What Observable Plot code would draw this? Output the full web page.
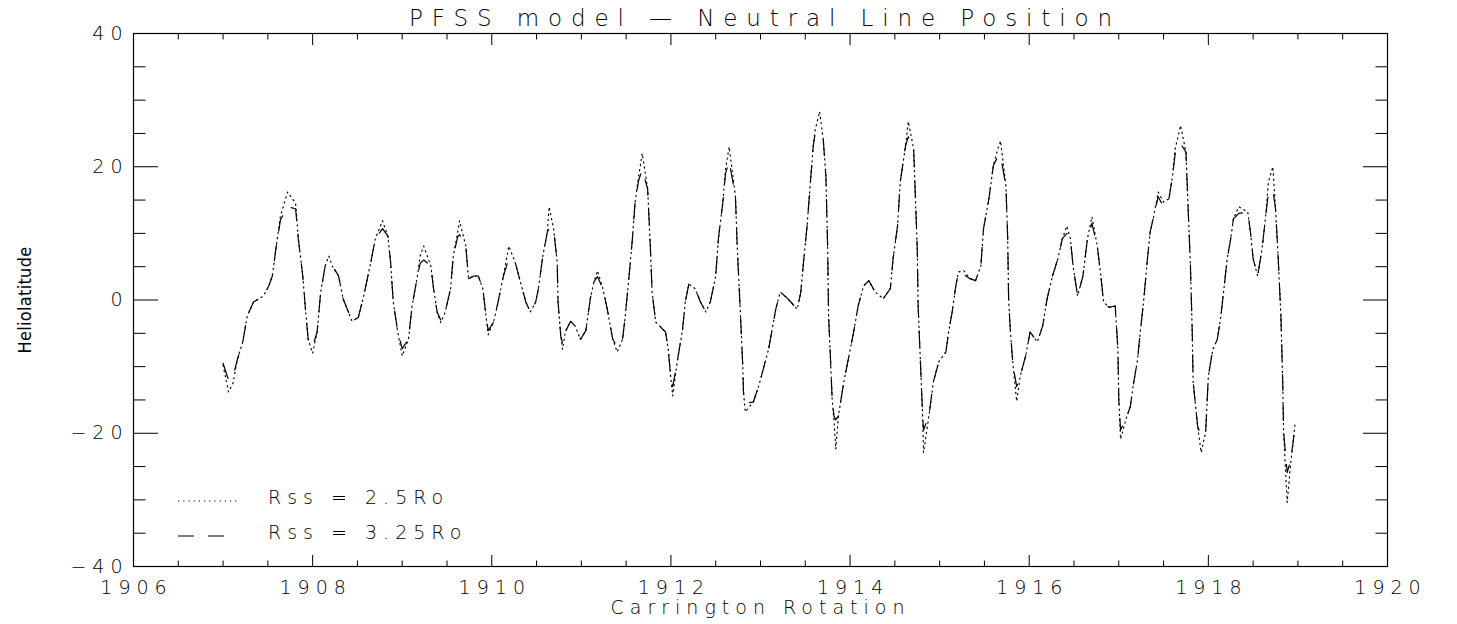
<!DOCTYPE html>
<html><head><meta charset="utf-8">
<script src="https://cdn.jsdelivr.net/npm/d3@7"></script>
<script src="https://cdn.jsdelivr.net/npm/@observablehq/plot@0.6"></script>
<style>
body{margin:0;background:#fff;}
#wrap{position:relative;width:1457px;height:624px;background:#fff;}
.lgrow{position:absolute;display:flex;align-items:center;font-family:"DejaVu Sans";font-weight:200;font-size:19px;letter-spacing:6px;color:#000;white-space:pre;height:24px;}
.lgrow svg{margin-right:30px;}
</style></head><body><div id="wrap"></div>
<script>
const titleText = "PFSS model — Neutral Line Position";
const xLabel = "Carrington Rotation";
const yLabel = "Heliolatitude";
const seriesNames = ["Rss = 2.5Ro", "Rss = 3.25Ro"];
const xMajor = [1906, 1908, 1910, 1912, 1914, 1916, 1918, 1920];
const xMinor = [1906.5,1907,1907.5,1908.5,1909,1909.5,1910.5,1911,1911.5,1912.5,1913,1913.5,1914.5,1915,1915.5,1916.5,1917,1917.5,1918.5,1919,1919.5];
const yMajor = [-40, -20, 0, 20, 40];
const yMinor = [-35,-30,-25,-15,-10,-5,5,10,15,25,30,35];

const rotation = [
1907.00,1907.06,1907.11,1907.16,1907.22,1907.27,1907.34,1907.45,1907.51,1907.55,1907.59,1907.64,1907.72,1907.81,1907.84,1907.89,1907.92,1907.95,
1908.00,1908.05,1908.09,1908.14,1908.18,1908.22,1908.29,1908.34,1908.44,1908.51,1908.57,1908.65,1908.70,1908.78,1908.84,1908.87,1908.90,1908.95,
1909.00,1909.07,1909.11,1909.17,1909.20,1909.24,1909.32,1909.35,1909.39,1909.43,1909.48,1909.54,1909.57,1909.62,1909.64,1909.71,1909.74,1909.80,1909.85,1909.90,1909.93,1909.96,
1910.02,1910.07,1910.13,1910.19,1910.26,1910.32,1910.38,1910.43,1910.49,1910.52,1910.57,1910.62,1910.64,1910.69,1910.73,1910.74,1910.77,1910.79,1910.82,1910.88,1910.93,1910.99,
1911.05,1911.10,1911.14,1911.18,1911.24,1911.29,1911.35,1911.40,1911.46,1911.49,1911.53,1911.57,1911.60,1911.64,1911.68,1911.74,1911.77,1911.79,1911.83,1911.91,1911.94,1911.97,
1912.00,1912.02,1912.07,1912.13,1912.16,1912.20,1912.27,1912.33,1912.39,1912.44,1912.50,1912.53,1912.58,1912.61,1912.65,1912.72,1912.74,1912.78,1912.80,1912.81,1912.83,1912.92,1912.98,
1913.03,1913.09,1913.13,1913.17,1913.22,1913.28,1913.34,1913.41,1913.45,1913.48,1913.52,1913.56,1913.59,1913.61,1913.66,1913.70,1913.73,1913.75,1913.76,1913.78,1913.80,1913.82,1913.84,1913.87,1913.93,1913.98,
1914.04,1914.09,1914.15,1914.21,1914.28,1914.37,1914.45,1914.48,1914.53,1914.56,1914.62,1914.65,1914.71,1914.73,1914.75,1914.76,1914.79,1914.81,1914.82,1914.88,1914.93,1914.99,
1915.07,1915.10,1915.14,1915.18,1915.21,1915.27,1915.34,1915.40,1915.46,1915.49,1915.55,1915.60,1915.65,1915.68,1915.74,1915.76,1915.77,1915.79,1915.82,1915.86,1915.90,1915.96,
1916.01,1916.09,1916.15,1916.20,1916.26,1916.32,1916.37,1916.42,1916.46,1916.49,1916.54,1916.60,1916.65,1916.70,1916.76,1916.80,1916.83,1916.89,1916.96,1916.99,
1917.00,1917.02,1917.08,1917.13,1917.16,1917.21,1917.24,1917.28,1917.32,1917.35,1917.39,1917.44,1917.50,1917.56,1917.60,1917.63,1917.69,1917.75,1917.77,1917.80,1917.82,1917.83,1917.88,1917.92,1917.97,
1918.00,1918.05,1918.10,1918.14,1918.17,1918.21,1918.25,1918.28,1918.34,1918.44,1918.47,1918.50,1918.55,1918.60,1918.64,1918.67,1918.72,1918.75,1918.78,1918.81,1918.83,1918.84,1918.88,1918.92,1918.95,1918.97];

const lat25 = [
-9.8,-13.8,-12.5,-8.9,-6.3,-2.4,-0.3,0.6,2.1,3.6,7.7,12.6,16.2,14.5,9.2,3.6,-1.4,-5.9,
-8.0,-4.8,1.2,5.1,6.6,5.1,3.6,0.2,-3.2,-2.6,0.6,5.7,9.2,11.9,9.6,5.7,-0.3,-4.8,
-8.4,-5.9,-0.9,3.6,6.6,8.1,5.1,1.7,-1.8,-3.4,-1.8,1.7,6.6,10.2,11.9,8.1,3.2,3.6,3.6,1.7,-1.8,-5.2,
-3.3,-0.3,3.6,8.1,5.7,2.7,-0.3,-1.8,-0.3,1.7,6.6,10.2,14.0,10.7,5.7,-0.3,-5.4,-7.4,-4.8,-3.2,-3.9,-5.9,
-4.6,0.2,2.7,4.4,1.7,-1.4,-5.9,-7.8,-5.9,-2.4,3.2,9.2,14.7,18.6,22.0,16.7,8.1,1.2,-3.3,-4.4,-4.8,-7.4,
-11.9,-14.4,-9.3,-4.4,-0.3,2.4,1.7,-0.3,-1.8,-0.3,3.6,9.2,14.7,19.7,23.0,15.6,8.1,-3.3,-9.3,-13.8,-16.8,-15.3,-12.9,
-10.4,-7.4,-4.4,-1.4,1.2,0.5,-0.3,-1.4,1.2,5.7,11.1,18.2,23.2,25.5,28.3,24.2,18.6,7.7,-2.4,-8.4,-14.9,-18.0,-22.4,-17.4,-12.3,-8.9,
-4.8,-0.9,2.1,2.9,1.2,0.2,1.7,6.2,11.1,17.7,23.2,26.8,22.7,15.2,7.7,-0.9,-10.8,-17.4,-22.9,-17.4,-12.3,-9.3,
-7.8,-4.8,-1.8,2.1,4.2,4.4,3.2,2.9,5.1,10.7,15.2,20.2,22.7,23.9,17.1,9.2,0.2,-4.8,-9.9,-15.2,-11.4,-8.4,
-4.8,-6.3,-3.9,0.2,3.6,6.2,9.2,11.1,9.2,5.1,0.6,3.6,9.2,12.5,8.1,3.6,-0.3,-1.1,-0.9,-7.4,
-14.9,-20.9,-17.9,-15.9,-12.9,-8.9,-4.8,0.2,6.2,10.2,12.6,16.2,14.7,15.2,18.6,22.7,26.2,22.2,15.2,5.1,-4.8,-12.3,-18.9,-22.9,-19.8,
-11.4,-7.4,-5.9,-2.4,1.2,6.2,9.2,12.2,14.0,13.2,10.2,6.2,3.6,7.7,12.6,17.7,20.0,13.7,6.2,-2.4,-12.3,-19.8,-30.4,-24.4,-20.9,-18.3];

const lat325 = [
-9.5,-12.0,-11.6,-8.9,-6.3,-2.4,-0.3,0.6,2.1,3.6,7.7,12.0,14.0,13.7,9.2,3.6,-1.4,-5.9,
-7.0,-4.8,1.2,5.1,5.6,5.1,3.6,0.2,-3.2,-2.6,0.6,5.7,9.2,10.7,9.6,5.7,-0.3,-4.8,
-7.3,-5.9,-0.9,3.6,5.5,6.0,5.1,1.7,-1.8,-3.0,-1.8,1.7,6.6,9.5,9.8,8.1,3.2,3.6,3.6,1.7,-1.8,-4.6,
-3.3,-0.3,3.6,6.2,5.7,2.7,-0.3,-1.8,-0.3,1.7,6.6,10.2,10.7,10.7,5.7,-0.3,-5.4,-6.5,-4.8,-3.2,-3.9,-5.9,
-4.6,0.2,2.7,3.5,1.7,-1.4,-5.9,-7.0,-5.9,-2.4,3.2,9.2,14.7,18.0,19.5,16.7,8.1,1.2,-3.3,-4.4,-4.8,-7.4,
-11.9,-13.0,-9.3,-4.4,-0.3,2.4,1.7,-0.3,-1.8,-0.3,3.6,9.2,14.7,19.0,20.8,15.6,8.1,-3.3,-9.3,-13.8,-15.5,-15.3,-12.9,
-10.4,-7.4,-4.4,-1.4,1.2,0.5,-0.3,-1.4,1.2,5.7,11.1,18.2,23.2,25.0,25.0,24.2,18.6,7.7,-2.4,-8.4,-14.9,-17.4,-18.0,-17.4,-12.3,-8.9,
-4.8,-0.9,2.1,2.9,1.2,0.2,1.7,6.2,11.1,17.7,23.2,24.5,22.7,15.2,7.7,-0.9,-10.8,-17.4,-19.5,-17.4,-12.3,-9.3,
-7.8,-4.8,-1.8,2.1,4.2,3.8,3.2,2.9,5.1,10.7,15.2,20.2,21.5,21.7,17.1,9.2,0.2,-4.8,-9.9,-13.0,-11.4,-8.4,
-4.8,-6.3,-3.9,0.2,3.6,6.2,9.2,10.0,9.2,5.1,0.6,3.6,9.2,11.5,8.1,3.6,-0.3,-1.1,-0.9,-7.4,
-14.9,-19.5,-17.9,-15.9,-12.9,-8.9,-4.8,0.2,6.2,10.2,12.6,15.5,14.0,15.2,18.6,22.0,23.5,22.2,15.2,5.1,-4.8,-12.3,-18.9,-20.5,-19.8,
-11.4,-7.4,-5.9,-2.4,1.2,6.2,9.2,12.2,13.0,13.2,10.2,6.2,3.6,7.7,12.6,16.0,16.5,13.7,6.2,-2.4,-12.3,-19.8,-25.9,-24.0,-20.9,-18.3];

const styles = ["1.2,4", "16,14"];
const sampleLen = [60, 54];
const series = [lat25, lat325];
const rows = series.flatMap((arr, s) => rotation.map((r, i) => ({rot: r, lat: arr[i], s})));

const fmt = d3.format("d");
const plot = Plot.plot({
  width: 1457, height: 624,
  marginLeft: 133, marginRight: 70, marginTop: 33, marginBottom: 58,
  style: "font-family: 'DejaVu Sans'; font-weight: 200; font-size: 19px; letter-spacing: 6px; background: #fff; color: #000; overflow: visible;",
  x: {domain: [1906, 1920], label: xLabel, labelArrow: "none"},
  y: {domain: [-40, 40], label: yLabel, labelArrow: "none"},
  marks: [
    Plot.frame({stroke: "#000", strokeWidth: 1.2}),
    Plot.axisX(xMajor, {anchor: "bottom", tickSize: 0, tickPadding: 14, tickFormat: fmt, dx: 3, label: xLabel, labelArrow: "none", labelAnchor: "center", labelOffset: 47}),
    Plot.axisX(xMajor, {anchor: "bottom", tickSize: -11, text: null, label: null}),
    Plot.axisX(xMinor, {anchor: "bottom", tickSize: -5.5, text: null, label: null}),
    Plot.axisX(xMajor, {anchor: "top", tickSize: -11, text: null, label: null}),
    Plot.axisX(xMinor, {anchor: "top", tickSize: -5.5, text: null, label: null}),
    Plot.axisY(yMajor, {anchor: "left", tickSize: 0, tickPadding: 5, tickFormat: fmt, label: yLabel, labelArrow: "none", labelAnchor: "center", labelOffset: 115}),
    Plot.axisY(yMajor, {anchor: "left", tickSize: -25, text: null, label: null}),
    Plot.axisY(yMinor, {anchor: "left", tickSize: -12.5, text: null, label: null}),
    Plot.axisY(yMajor, {anchor: "right", tickSize: -25, text: null, label: null}),
    Plot.axisY(yMinor, {anchor: "right", tickSize: -12.5, text: null, label: null}),
    ...series.map((arr, s) => Plot.line(rows.filter(d => d.s === s), {x: "rot", y: "lat", stroke: "#000", strokeWidth: 1.2, strokeDasharray: styles[s], strokeLinejoin: "round"})),
    Plot.text([titleText], {frameAnchor: "top", dy: -15, dx: 4.5, fontSize: 23, lineAnchor: "middle"})
  ]
});
const wrap = document.getElementById("wrap");
wrap.appendChild(plot);
plot.querySelectorAll("text").forEach(el => {
  const s = el.textContent;
  if (s === titleText) el.setAttribute("style", "letter-spacing: 8.9px");
  else if (s.startsWith(yLabel)) el.setAttribute("style", "letter-spacing: 0.3px; font-size: 18px; font-stretch: condensed; font-weight: 400");
});

// legend (HTML overlay inside the plot frame)
const legendTops = [485, 520];
seriesNames.forEach((name, s) => {
  const row = document.createElement("div");
  row.className = "lgrow";
  row.style.left = "178px";
  row.style.top = legendTops[s] + "px";
  const sw = d3.create("svg").attr("width", 60).attr("height", 24);
  sw.append("line").attr("x1", 0).attr("x2", sampleLen[s]).attr("y1", 16).attr("y2", 16)
    .attr("stroke", "#000").attr("stroke-width", 1.2).attr("stroke-dasharray", styles[s]);
  row.appendChild(sw.node());
  const sp = document.createElement("span");
  sp.textContent = name;
  row.appendChild(sp);
  wrap.appendChild(row);
});
</script></body></html>
